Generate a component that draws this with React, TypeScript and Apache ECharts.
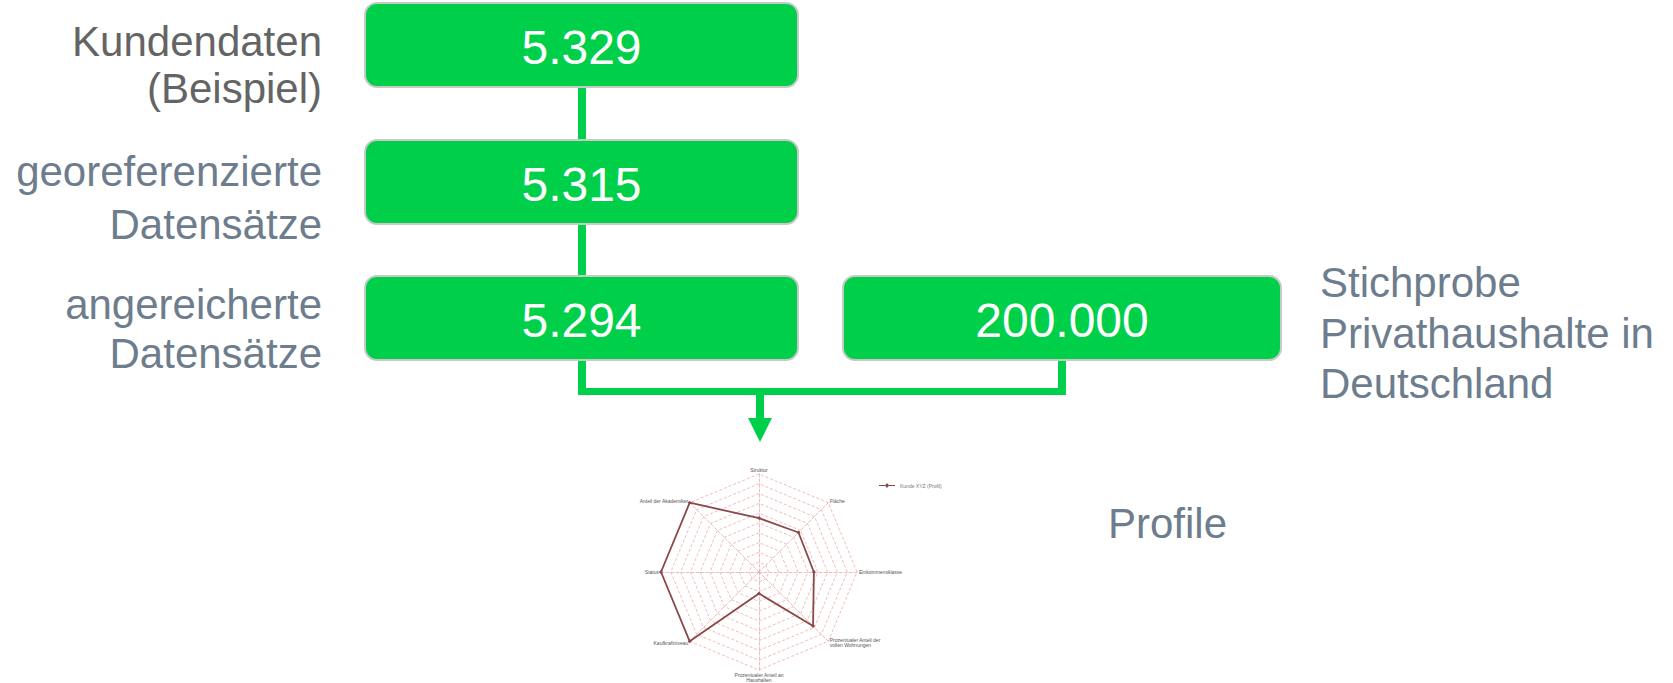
import React, { useEffect, useRef } from "react";
import * as echarts from "echarts";

// ---- data ----
const stepValues = ["5.329", "5.315", "5.294"];
const sampleValue = "200.000";
const stepLabels = [
  ["Kundendaten", "(Beispiel)"],
  ["georeferenzierte", "Datensätze"],
  ["angereicherte", "Datensätze"],
];
const sampleLabel = ["Stichprobe", "Privathaushalte in", "Deutschland"];
const resultLabel = "Profile";

// radar indicators listed counter-clockwise from the top (ECharts order)
const radarIndicators = [
  "Struktur",
  "Anteil der Akademiker",
  "Status",
  "Kaufkraftniveau",
  "Prozentualer Anteil an\nHaushalten",
  "Prozentualer Anteil der\nvollen Wohnungen",
  "Einkommensklasse",
  "Fläche",
];
const radarValues = [55, 100, 100, 100, 22, 78, 56, 57];
const radarSeriesName = "Kunde XYZ (Profil)";
const radarMax = 100;

const GREEN = "#00cf4a";
const BORDER = "#c9c9c9";
const FONT = "'Liberation Sans', Arial, Helvetica, sans-serif";

export default function App() {
  const ref = useRef<HTMLDivElement>(null);
  useEffect(() => {
    if (!ref.current) return;
    const chart = echarts.init(ref.current, undefined, { renderer: "svg" });

    const boxX = 365;
    const boxW = 433;
    const boxH = 84;
    const boxTops = [3, 140, 276];
    const labelY = [
      [41, 88],
      [171, 224],
      [304, 353],
    ];
    const labelColors = ["#646464", "#6d7d8d", "#6d7d8d"];

    const graphics: any[] = [];

    // connectors (drawn first, below boxes)
    const lineW = 8;
    const cx = 582;
    graphics.push({ type: "rect", shape: { x: cx - 4, y: 86, width: lineW, height: 56 }, style: { fill: GREEN } });
    graphics.push({ type: "rect", shape: { x: cx - 4, y: 223, width: lineW, height: 55 }, style: { fill: GREEN } });
    graphics.push({ type: "rect", shape: { x: cx - 4, y: 359, width: lineW, height: 36 }, style: { fill: GREEN } });
    graphics.push({ type: "rect", shape: { x: 1058, y: 358, width: lineW, height: 37 }, style: { fill: GREEN } });
    graphics.push({ type: "rect", shape: { x: cx - 4, y: 388, width: 1066 - (cx - 4), height: 7 }, style: { fill: GREEN } });
    graphics.push({ type: "rect", shape: { x: 756, y: 394, width: lineW, height: 25 }, style: { fill: GREEN } });
    graphics.push({
      type: "polygon",
      shape: { points: [[748, 418], [772, 418], [760, 442]] },
      style: { fill: GREEN },
    });

    stepValues.forEach((v, i) => {
      const y = boxTops[i];
      graphics.push({
        type: "rect",
        shape: { x: boxX, y, width: boxW, height: boxH, r: 12 },
        style: { fill: GREEN, stroke: BORDER, lineWidth: 2 },
      });
      graphics.push({
        type: "text",
        x: boxX + boxW / 2,
        y: y + boxH / 2 + 2,
        style: { text: v, fill: "#ffffff", fontSize: 48, fontFamily: FONT, align: "center", verticalAlign: "middle" },
      });
      stepLabels[i].forEach((t, j) => {
        graphics.push({
          type: "text",
          x: 322,
          y: labelY[i][j],
          style: { text: t, fill: labelColors[i], fontSize: 42, fontFamily: FONT, align: "right", verticalAlign: "middle" },
        });
      });
    });

    // sample box
    graphics.push({
      type: "rect",
      shape: { x: 843, y: 276, width: 438, height: 84, r: 12 },
      style: { fill: GREEN, stroke: BORDER, lineWidth: 2 },
    });
    graphics.push({
      type: "text",
      x: 1062,
      y: 320,
      style: { text: sampleValue, fill: "#ffffff", fontSize: 48, fontFamily: FONT, align: "center", verticalAlign: "middle" },
    });
    const sampleY = [282, 333, 383];
    sampleLabel.forEach((t, j) => {
      graphics.push({
        type: "text",
        x: 1320,
        y: sampleY[j],
        style: { text: t, fill: "#6d7d8d", fontSize: 42, fontFamily: FONT, align: "left", verticalAlign: "middle" },
      });
    });
    graphics.push({
      type: "text",
      x: 1108,
      y: 523,
      style: { text: resultLabel, fill: "#6d7d8d", fontSize: 42, fontFamily: FONT, align: "left", verticalAlign: "middle" },
    });

    chart.setOption({
      animation: false,
      legend: {
        data: [radarSeriesName],
        left: 874,
        top: 478,
        itemWidth: 16,
        itemHeight: 5,
        itemGap: 2,
        icon: "path://M0,4.5h20v1h-20z M10,2l2.5,3l-2.5,3l-2.5,-3z",
        textStyle: { fontSize: 5, color: "#777", fontFamily: FONT },
      },
      radar: {
        center: [759, 572],
        radius: 98,
        shape: "polygon",
        splitNumber: 10,
        startAngle: 90,
        nameGap: 2,
        indicator: radarIndicators.map((n) => ({ name: n, max: radarMax, min: 0 })),
        axisName: { color: "#555", fontSize: 5, fontFamily: FONT, lineHeight: 5 },
        splitLine: { lineStyle: { color: "#eeaaaa", type: [3, 2], width: 0.8 } },
        axisLine: { lineStyle: { color: "#eeaaaa", type: [3, 2], width: 0.8 } },
        splitArea: { show: false },
        axisTick: { show: false },
      },
      series: [
        {
          type: "radar",
          name: radarSeriesName,
          symbol: "diamond",
          symbolSize: 4,
          lineStyle: { color: "#8b4848", width: 1.8 },
          itemStyle: { color: "#8b4848" },
          data: [{ value: radarValues, name: radarSeriesName }],
        },
      ],
      graphic: { elements: graphics },
    });

    return () => chart.dispose();
  }, []);

  return (
    <div
      ref={ref}
      style={{ position: "fixed", left: 0, top: 0, width: 1673, height: 683, background: "#fff" }}
    />
  );
}
